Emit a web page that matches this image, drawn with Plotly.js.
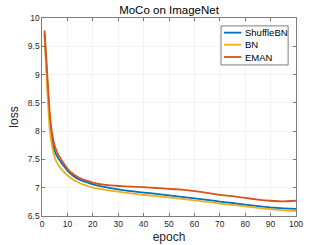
<!DOCTYPE html>
<html><head><meta charset="utf-8">
<script src="https://cdn.plot.ly/plotly-3.0.1.min.js"></script>
<style>html,body{margin:0;padding:0;background:#fff}#c{width:327px;height:245px}</style>
</head><body><div id="c"></div>
<script>
const epochs = [1,2,3,4,5,6,7,8,9,10,12,14,16,18,20,25,30,35,40,45,50,55,60,65,70,75,80,85,90,95,100];
const shuffleBN = [9.72,8.95,8.22,7.85,7.65,7.55,7.48,7.42,7.36,7.30,7.22,7.16,7.12,7.09,7.06,7.01,6.97,6.94,6.915,6.89,6.865,6.84,6.81,6.785,6.755,6.73,6.70,6.675,6.65,6.635,6.625];
const bn =        [9.65,8.80,8.05,7.72,7.54,7.43,7.36,7.31,7.26,7.22,7.15,7.10,7.06,7.03,7.00,6.96,6.93,6.90,6.875,6.85,6.83,6.805,6.775,6.75,6.72,6.695,6.67,6.645,6.62,6.60,6.59];
const eman =      [9.78,9.05,8.35,7.95,7.74,7.62,7.54,7.47,7.40,7.34,7.25,7.19,7.15,7.12,7.09,7.05,7.03,7.02,7.01,6.995,6.98,6.965,6.94,6.91,6.875,6.85,6.82,6.79,6.77,6.76,6.77];
const names = ['ShuffleBN','BN','EMAN'];
const colors = ['#0072BD','#EDB120','#D95319'];
const series = [shuffleBN, bn, eman];
const FONT = 'Liberation Sans, Arial, sans-serif';
const traces = series.map((s,i)=>({x:epochs,y:s,name:names[i],type:'scatter',mode:'lines',showlegend:false,
  line:{color:colors[i],width:1.8,shape:'spline',smoothing:0.4}}));
const axisCommon = {showline:true,linecolor:'#262626',linewidth:0.6,mirror:'ticks',ticks:'inside',ticklen:3,
  tickcolor:'#262626',tickwidth:0.6,showgrid:true,gridcolor:'#ebebeb',gridwidth:0.6,zeroline:false,
  tickfont:{family:FONT,size:8.5,color:'#262626'}};
// legend box (paper coords)
const lx0=0.705, lx1=0.969, ly0=0.763, ly1=0.960;
const rowY=[0.926,0.865,0.803];
const shapes=[{type:'rect',xref:'paper',yref:'paper',x0:lx0,x1:lx1,y0:ly0,y1:ly1,fillcolor:'#fff',line:{color:'#262626',width:0.6},layer:'above'}];
const annotations=[];
names.forEach((n,i)=>{
  shapes.push({type:'line',xref:'paper',yref:'paper',x0:0.716,x1:0.785,y0:rowY[i],y1:rowY[i],line:{color:colors[i],width:1.8},layer:'above'});
  annotations.push({xref:'paper',yref:'paper',x:0.790,y:rowY[i],xanchor:'left',yanchor:'middle',text:n,showarrow:false,
    font:{family:FONT,size:9.5,color:'#000'}});
});
const layout = {
  width:327,height:245,margin:{l:42,r:31,t:18,b:29},paper_bgcolor:'#fff',plot_bgcolor:'#fff',
  title:{text:'MoCo on ImageNet',x:0.5,xref:'paper',y:0.96,yref:'container',yanchor:'middle',
    font:{family:FONT,size:11.5,color:'#000'}},
  xaxis:Object.assign({},axisCommon,{range:[0,100],dtick:10,tick0:0,
    title:{text:'epoch',standoff:4,font:{family:FONT,size:12,color:'#262626'}}}),
  yaxis:Object.assign({},axisCommon,{range:[6.5,10],dtick:0.5,tick0:6.5,
    title:{text:'loss',standoff:6,font:{family:FONT,size:12,color:'#262626'}}}),
  showlegend:false, shapes:shapes, annotations:annotations
};
Plotly.newPlot('c',traces,layout,{staticPlot:true,displayModeBar:false});
</script></body></html>
